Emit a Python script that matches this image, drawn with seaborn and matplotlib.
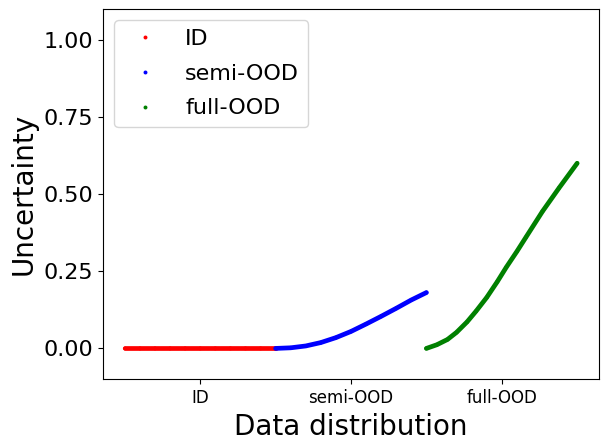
import pandas as pd
import matplotlib.pyplot as plt
import seaborn as sns

#  values 
id_x = [0.0, 0.1, 0.2, 0.3, 0.4, 0.5, 0.6, 0.7, 0.8, 0.9, 1.0]
id_y = [0.0, 0.0, 0.0, 0.0, 0.0, 0.0, 0.0, 0.0, 0.0, 0.0, 0.0]

semi_x = [1.0, 1.1, 1.2, 1.3, 1.4, 1.5, 1.6, 1.7, 1.8, 1.9, 2.0]
semi_y = [0.0, 0.002, 0.008, 0.019, 0.035, 0.055, 0.079, 0.104, 0.130, 0.157, 0.181]

full_x = [2.0, 2.07, 2.14, 2.2, 2.27, 2.33, 2.4, 2.47, 2.53, 2.6, 2.66, 2.77, 2.88, 3.0]
full_y = [0.0, 0.012, 0.029, 0.052, 0.086, 0.121, 0.165, 0.216, 0.263, 0.314, 0.360,
          0.444, 0.520, 0.600]

groups = ['ID', 'semi-OOD', 'full-OOD']
colors = {'ID': 'red', 'semi-OOD': 'blue', 'full-OOD': 'green'}
tick_pos = [0.5, 1.5, 2.5]

df = pd.concat([
    pd.DataFrame({'x': id_x, 'y': id_y, 'group': 'ID'}),
    pd.DataFrame({'x': semi_x, 'y': semi_y, 'group': 'semi-OOD'}),
    pd.DataFrame({'x': full_x, 'y': full_y, 'group': 'full-OOD'}),
], ignore_index=True)

sns.set_style("ticks")
plt.rcParams['font.family'] = ['DejaVu Sans']
plt.rcParams['text.color'] = 'black'
plt.rcParams['axes.labelcolor'] = 'black'
plt.rcParams['xtick.color'] = 'black'
plt.rcParams['ytick.color'] = 'black'

fig = plt.figure(figsize=(6.08, 4.47), dpi=100)
ax = fig.add_axes([0.1694, 0.1515, 0.8158, 0.8284])

sns.lineplot(data=df, x='x', y='y', hue='group', hue_order=groups, palette=colors,
             estimator=None, sort=False, linewidth=3.4, legend=False, ax=ax,
             solid_capstyle='round', solid_joinstyle='round')
sns.scatterplot(data=df, x='x', y='y', hue='group', hue_order=groups, palette=colors,
                s=8, linewidth=0, ax=ax)

ax.set_xlim(-0.145, 3.145)
ax.set_ylim(-0.1, 1.1)
ax.set_xticks(tick_pos)
ax.set_xticklabels(groups, fontsize=12)
ax.set_yticks([0.0, 0.25, 0.5, 0.75, 1.0])
ax.set_yticklabels(['0.00', '0.25', '0.50', '0.75', '1.00'], fontsize=16)
ax.set_xlabel('Data distribution', fontsize=20)
ax.set_ylabel('Uncertainty', fontsize=20)
for s in ax.spines.values():
    s.set_visible(True)
    s.set_color('black')

ax.legend(loc='upper left', fontsize=16, title=None, labelspacing=0.66)

plt.savefig('out.png', dpi=100)
